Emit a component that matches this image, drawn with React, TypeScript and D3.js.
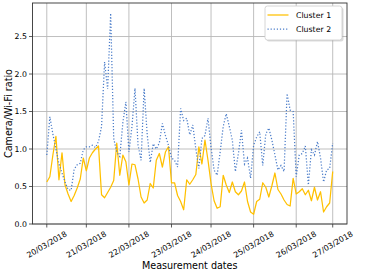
import React from "react";
import * as d3 from "d3";

const dateLabels = ["20/03/2018", "21/03/2018", "22/03/2018", "23/03/2018", "24/03/2018", "25/03/2018", "26/03/2018", "27/03/2018"];
const dateTickIndex = [0, 13, 27, 41, 54, 68, 82, 94];
const yTicks = [0, 0.5, 1.0, 1.5, 2.0, 2.5];

const cluster1 = [
  0.56, 0.63, 0.92, 1.17, 0.59, 0.95, 0.52, 0.40, 0.30, 0.38,
  0.48, 0.60, 0.88, 0.71, 0.88, 0.95, 1.00, 1.04, 0.39, 0.35,
  0.42, 0.49, 0.58, 1.08, 0.65, 0.92, 0.83, 0.52, 0.80, 0.79,
  0.60, 0.36, 0.28, 0.32, 0.54, 0.48, 0.85, 0.94, 0.76, 0.96,
  1.03, 0.55, 0.55, 0.38, 0.30, 0.19, 0.59, 0.53, 0.59, 0.66,
  1.03, 0.80, 1.12, 0.85, 0.54, 0.31, 0.21, 0.23, 0.65, 0.52,
  0.42, 0.56, 0.43, 0.39, 0.44, 0.56, 0.30, 0.16, 0.13, 0.30,
  0.33, 0.55, 0.49, 0.36, 0.51, 0.68, 0.46, 0.40, 0.32, 0.26,
  0.24, 0.61, 0.40, 0.43, 0.47, 0.39, 0.45, 0.31, 0.49, 0.32,
  0.43, 0.16, 0.23, 0.28, 0.70,
];

const cluster2 = [
  0.92, 1.43, 1.20, 1.00, 0.80, 0.68, 0.56, 0.46, 0.45, 0.73,
  0.79, 0.81, 0.99, 1.03, 1.03, 1.05, 1.02, 1.10, 1.30, 2.16,
  1.80, 2.81, 1.14, 0.96, 0.90, 1.35, 1.63, 0.96, 1.30, 1.81,
  1.05, 0.85, 1.81, 1.20, 0.82, 1.07, 1.00, 1.08, 1.34, 1.18,
  1.05, 0.88, 0.85, 0.76, 1.54, 1.38, 1.41, 1.19, 1.32, 1.00,
  0.74, 1.14, 1.18, 1.41, 1.02, 0.72, 0.65, 0.96, 1.30, 1.47,
  1.30, 1.12, 0.70, 0.94, 1.25, 0.80, 0.88, 0.61, 1.05, 1.16,
  1.23, 0.78, 1.20, 1.28, 1.12, 0.92, 0.72, 0.78, 0.70, 1.74,
  1.52, 1.50, 0.63, 0.92, 0.94, 1.04, 0.52, 0.99, 0.92, 1.10,
  0.88, 0.56, 0.72, 0.74, 1.08,
];

const W = 365, H = 274;
const L = 32.5, R = 347, T = 3, B = 224;
const FONT = "DejaVu Sans";
const ORANGE = "#ffc000";
const BLUE = "#4a7cc9";
const TICK_FS = 7.8;

export default function App() {
  const n = cluster1.length;
  const span = n - 1;
  const x = d3.scaleLinear().domain([-0.05 * span, span * 1.05]).range([L, R]);
  const y = d3.scaleLinear().domain([0, 2.947]).range([B, T]);
  const line = d3.line<number>().x((_, i) => x(i)).y((d) => y(d));

  return (
    <div style={{ position: "absolute", left: 0, top: 0 }}>
      <svg width={W} height={H} style={{ display: "block", background: "#fff" }} fontFamily={FONT}>
        {/* grid */}
        {dateTickIndex.map((t, i) => (
          <line key={"gx" + i} x1={x(t)} x2={x(t)} y1={T} y2={B} stroke="#b8b8b8" strokeWidth={0.9} />
        ))}
        {yTicks.map((t, i) => (
          <line key={"gy" + i} x1={L} x2={R} y1={y(t)} y2={y(t)} stroke="#b8b8b8" strokeWidth={0.9} />
        ))}
        {/* lines */}
        <path d={line(cluster1) || ""} fill="none" stroke={ORANGE} strokeWidth={1.25} strokeLinejoin="round" />
        <path d={line(cluster2) || ""} fill="none" stroke={BLUE} strokeWidth={1.25} strokeDasharray="1.2,1.9" />
        {/* frame */}
        <rect x={L} y={T} width={R - L} height={B - T} fill="none" stroke="#333" strokeWidth={0.9} />
        {/* y ticks */}
        {yTicks.map((t, i) => (
          <g key={"yt" + i}>
            <line x1={L - 3.5} x2={L} y1={y(t)} y2={y(t)} stroke="#333" strokeWidth={0.8} />
            <text x={L - 5.5} y={y(t)} dy="0.35em" textAnchor="end" fontSize={TICK_FS} fill="#000">
              {t.toFixed(1)}
            </text>
          </g>
        ))}
        {/* x ticks */}
        {dateTickIndex.map((t, i) => (
          <g key={"xt" + i}>
            <line x1={x(t)} x2={x(t)} y1={B} y2={B + 3.5} stroke="#333" strokeWidth={0.8} />
            <text
              x={x(t)}
              y={244.3}
              dy="0.35em"
              textAnchor="middle"
              fontSize={TICK_FS}
              fill="#000"
              transform={`rotate(-30, ${x(t)}, 244.3)`}
            >
              {dateLabels[i]}
            </text>
          </g>
        ))}
        {/* axis labels */}
        <text x={(L + R) / 2} y={268.5} textAnchor="middle" fontSize={9.6} fill="#000">
          Measurement dates
        </text>
        <text x={9} y={(T + B) / 2} dy="0.35em" textAnchor="middle" fontSize={9.6} fill="#000"
          transform={`rotate(-90, 9, ${(T + B) / 2})`}>
          Camera/Wi-Fi ratio
        </text>
        {/* legend */}
        <rect x={266.5} y={7.5} width={77} height={34} rx={2.5} fill="#999" opacity={0.35} />
        <rect x={265} y={6} width={77} height={34} rx={2.5} fill="#fff" stroke="#ccc" strokeWidth={0.8} />
        <line x1={267.5} x2={288.5} y1={15} y2={15} stroke={ORANGE} strokeWidth={1.25} />
        <line x1={267.5} x2={288.5} y1={29} y2={29} stroke={BLUE} strokeWidth={1.25} strokeDasharray="1.2,1.9" />
        <text x={296} y={15} dy="0.35em" fontSize={TICK_FS} fill="#000">Cluster 1</text>
        <text x={296} y={29} dy="0.35em" fontSize={TICK_FS} fill="#000">Cluster 2</text>
      </svg>
    </div>
  );
}
